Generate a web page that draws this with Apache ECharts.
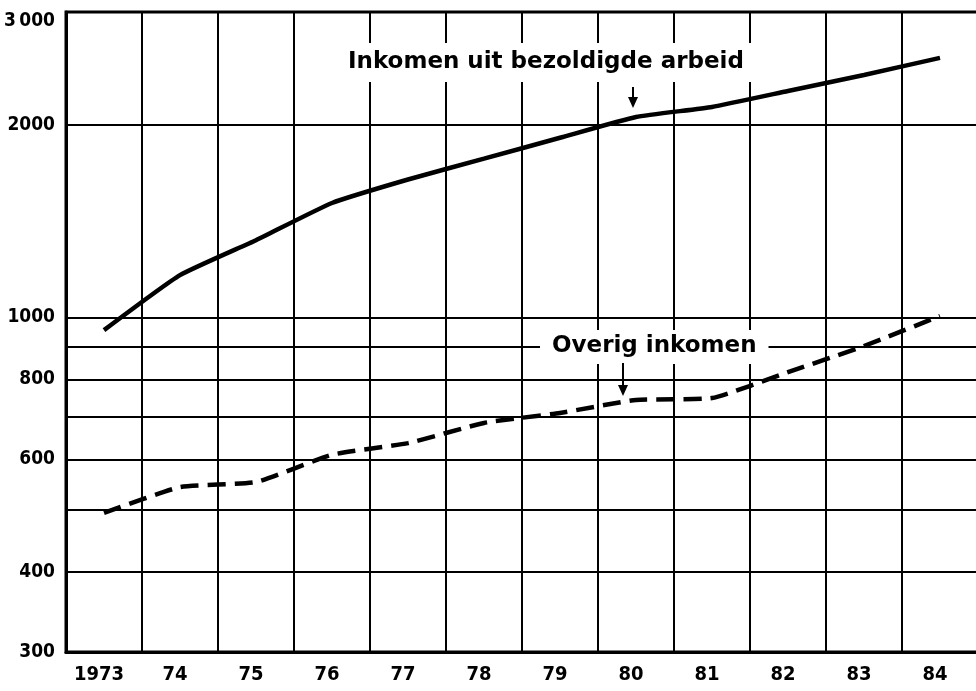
<!DOCTYPE html>
<html>
<head>
<meta charset="utf-8">
<script src="https://cdn.jsdelivr.net/npm/echarts@6/dist/echarts.min.js"></script>
<style>
    html, body { margin: 0; background: #fff; }
    #chart { width: 976px; height: 691px; }
</style>
</head>
<body>
<div id="chart"></div>
<script>
// jaren (x-as) en de twee inkomensreeksen
let years = ['1973', '74', '75', '76', '77', '78', '79', '80', '81', '82', '83', '84'];
let arbeid = [955, 1164, 1320, 1509, 1642, 1770, 1908, 2056, 2132, 2258, 2392, 2544];
let overig = [495, 543, 553, 610, 636, 684, 709, 743, 748, 821, 902, 1005];
// horizontale rasterlijnen en de waarden met een label
let yGrid = [300, 400, 500, 600, 700, 800, 900, 1000, 2000, 3000];
let yLabels = [300, 400, 600, 800, 1000, 2000, 3000];

let numFont = "'DejaVu Sans', sans-serif";
let numWeight = 'condensed bold';   // smalle cijfers zoals in het origineel
let textFont = "bold 23px 'DejaVu Sans', sans-serif";

let myChart = echarts.init(document.getElementById('chart'));
let option = {
    animation: false,
    backgroundColor: '#fff',
    grid: {
        left: 66,
        top: 12,
        width: 912,
        bottom: 39,
        containLabel: false,
        outerBoundsMode: 'none',
        show: true,
        borderColor: '#000',
        borderWidth: 3
    },
    xAxis: {
        type: 'category',
        data: years,
        boundaryGap: true,
        axisLine: { lineStyle: { color: '#000', width: 3 } },
        axisTick: { show: false },
        axisLabel: {
            interval: 0,
            color: '#000',
            fontFamily: numFont,
            fontWeight: numWeight,
            fontSize: 20,
            margin: 13,
            padding: [0, 10, 0, 0]
        },
        splitLine: { show: true, lineStyle: { color: '#000', width: 2 } }
    },
    yAxis: {
        type: 'log',
        logBase: 10,
        min: 300,
        max: 3000,
        axisLine: { show: true, lineStyle: { color: '#000', width: 3 } },
        axisTick: { show: false, customValues: yGrid },
        axisLabel: {
            customValues: yLabels,
            color: '#000',
            fontFamily: numFont,
            fontWeight: numWeight,
            fontSize: 19,
            margin: 11,
            formatter: function (v) {
                return v === 3000 ? '{t|3\u2009000}' : String(v);
            },
            rich: {
                t: {
                    fontFamily: numFont,
                    fontWeight: numWeight,
                    fontSize: 19,
                    color: '#000',
                    padding: [18, 0, 0, 0]
                }
            }
        },
        splitLine: { show: true, lineStyle: { color: '#000', width: 2 } }
    },
    series: [
        {
            name: 'Inkomen uit bezoldigde arbeid',
            type: 'line',
            data: arbeid,
            symbol: 'none',
            smooth: 0.15,
            lineStyle: { color: '#000', width: 4.5 }
        },
        {
            name: 'Overig inkomen',
            type: 'line',
            data: overig,
            symbol: 'none',
            smooth: 0.15,
            lineStyle: { color: '#000', width: 4.5, type: [18, 9] }
        }
    ],
    graphic: [
        {
            type: 'text',
            z: 50,
            x: 338,
            y: 43,
            style: {
                text: 'Inkomen uit bezoldigde arbeid',
                font: textFont,
                fill: '#000',
                backgroundColor: '#fff',
                padding: [8, 10, 8, 10]
            }
        },
        {
            type: 'line',
            z: 50,
            shape: { x1: 633, y1: 87, x2: 633, y2: 101 },
            style: { stroke: '#000', lineWidth: 2 }
        },
        {
            type: 'polygon',
            z: 50,
            shape: { points: [[628, 97], [638, 97], [633, 108]] },
            style: { fill: '#000' }
        },
        {
            type: 'text',
            z: 50,
            x: 540,
            y: 330,
            style: {
                text: 'Overig inkomen',
                font: textFont,
                fill: '#000',
                backgroundColor: '#fff',
                padding: [5, 12, 6, 12]
            }
        },
        {
            type: 'line',
            z: 50,
            shape: { x1: 623, y1: 363, x2: 623, y2: 388 },
            style: { stroke: '#000', lineWidth: 2 }
        },
        {
            type: 'polygon',
            z: 50,
            shape: { points: [[618, 385], [628, 385], [623, 396]] },
            style: { fill: '#000' }
        }
    ]
};
myChart.setOption(option);
</script>
</body>
</html>
